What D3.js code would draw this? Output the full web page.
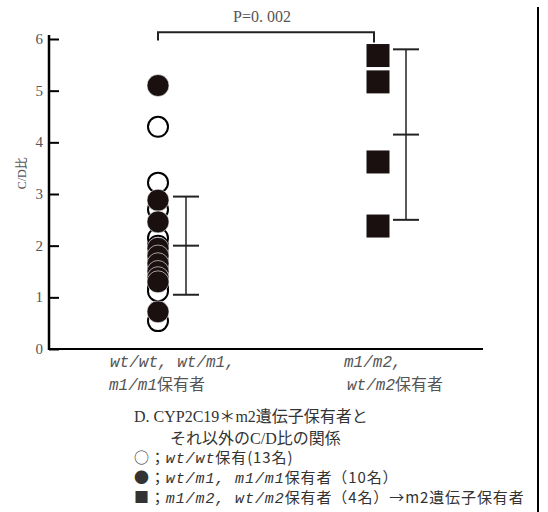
<!DOCTYPE html>
<html>
<head>
<meta charset="utf-8">
<script src="https://cdn.jsdelivr.net/npm/d3@7"></script>
<style>
  body { margin: 0; background: #fff; }
  svg { display: block; }
  .tick-label { font-family: "Liberation Serif", "DejaVu Serif", serif; font-size: 15px; fill: #555; }
  .jp { font-family: "Noto Sans CJK JP", sans-serif; }
  .it { font-family: "Liberation Mono", monospace; font-style: italic; }
  .se { font-family: "Liberation Serif", serif; }
</style>
</head>
<body>
<div id="chart"></div>
<script>
// values
const categories = ["g1", "g2"];
const openValues = [4.3, 3.22, 2.7, 2.15, 2.0, 1.85, 1.7, 1.55, 1.4, 1.3, 1.2, 1.12, 0.54]; // wt/wt (13)
const filledValues = [5.1, 2.88, 2.46, 1.95, 1.8, 1.65, 1.5, 1.38, 1.3, 0.72];              // wt/m1, m1/m1 (10)
const squareValues = [5.68, 5.17, 3.62, 2.38];                                               // m1/m2, wt/m2 (4)
const means = [2.0, 4.15];
const sds = [0.95, 1.65];
const yTicks = [0, 1, 2, 3, 4, 5, 6];
const pLabel = "P=0. 002";

const width = 548, height = 512;
const svg = d3.select("#chart").append("svg")
  .attr("width", width)
  .attr("height", height);

const y = d3.scaleLinear().domain([0, 6]).range([349, 39]);
const x = d3.scalePoint().domain(categories).range([158, 378]);

// right frame line
svg.append("line")
  .attr("x1", 538).attr("x2", 538)
  .attr("y1", 7).attr("y2", height)
  .attr("stroke", "#000").attr("stroke-width", 2);

// y axis
const yAxis = svg.append("g")
  .attr("transform", "translate(49,0)")
  .call(d3.axisRight(y).tickValues(yTicks).tickSize(10).tickFormat(""));
yAxis.select(".domain").remove();
yAxis.selectAll(".tick line").attr("stroke", "#000").attr("stroke-width", 2);
svg.append("line")
  .attr("x1", 49).attr("x2", 49)
  .attr("y1", y(6) - 4).attr("y2", y(0) + 1)
  .attr("stroke", "#000").attr("stroke-width", 2.5);
svg.selectAll(".ylab").data(yTicks).join("text")
  .attr("class", "tick-label")
  .attr("x", 43)
  .attr("y", d => y(d) + 5)
  .attr("text-anchor", "end")
  .text(d => d);

// x axis baseline
svg.append("line")
  .attr("x1", 48).attr("x2", 483)
  .attr("y1", y(0)).attr("y2", y(0))
  .attr("stroke", "#000").attr("stroke-width", 2);

// y label
svg.append("text")
  .attr("transform", `translate(26,${y(3.4)}) rotate(-90)`)
  .attr("text-anchor", "middle")
  .attr("fill", "#555")
  .style("font-size", "12px")
  .html('<tspan class="se">C/D</tspan><tspan class="jp">比</tspan>');

// significance bracket
const bTop = y(6.13);
svg.append("path")
  .attr("d", `M${x("g1")},${y(5.97)} V${bTop} H${x("g2") - 4} V${y(5.93)}`)
  .attr("fill", "none").attr("stroke", "#222").attr("stroke-width", 2);
svg.append("text")
  .attr("x", (x("g1") + x("g2")) / 2 - 6)
  .attr("y", bTop - 10)
  .attr("text-anchor", "middle")
  .attr("class", "tick-label")
  .style("font-size", "16px")
  .text(pLabel);

// points
const r = 11;
svg.selectAll(".open").data(openValues).join("circle")
  .attr("cx", x("g1")).attr("cy", d => y(d)).attr("r", r - 1)
  .attr("fill", "#fff").attr("stroke", "#000").attr("stroke-width", 2);
svg.selectAll(".filled").data(filledValues).join("circle")
  .attr("cx", x("g1")).attr("cy", d => y(d)).attr("r", r)
  .attr("fill", "#1a1010").attr("stroke", "#fff").attr("stroke-width", 0.6);
const s = 23;
svg.selectAll(".sq").data(squareValues).join("rect")
  .attr("x", x("g2") - s / 2).attr("y", d => y(d) - s / 2)
  .attr("width", s).attr("height", s)
  .attr("fill", "#1a1010");

// mean ± SD bars
const off = 28, cap = 13;
categories.forEach((c, i) => {
  const cx = x(c) + off;
  const g = svg.append("g").attr("stroke", "#222").attr("stroke-width", 2);
  g.append("line").attr("x1", cx).attr("x2", cx)
    .attr("y1", y(means[i] + sds[i])).attr("y2", y(means[i] - sds[i]))
    .attr("stroke-width", 1.5);
  [means[i] - sds[i], means[i], means[i] + sds[i]].forEach(v => {
    g.append("line").attr("x1", cx - cap).attr("x2", cx + cap)
      .attr("y1", y(v)).attr("y2", y(v));
  });
});

// category labels
const catText = svg.append("g").attr("fill", "#555").style("font-size", "16px");
catText.append("text").attr("x", 110).attr("y", 367)
  .html('<tspan class="it">wt/wt, wt/m1,</tspan>');
catText.append("text").attr("x", 109).attr("y", 390)
  .html('<tspan class="it">m1/m1</tspan><tspan class="jp">保有者</tspan>');
catText.append("text").attr("x", 344).attr("y", 367)
  .html('<tspan class="it">m1/m2,</tspan>');
catText.append("text").attr("x", 347).attr("y", 390)
  .html('<tspan class="it">wt/m2</tspan><tspan class="jp">保有者</tspan>');

// caption / legend
const leg = svg.append("g").attr("fill", "#333").style("font-size", "16px");
leg.append("text").attr("x", 134).attr("y", 422)
  .html('<tspan class="se">D.  CYP2C19</tspan><tspan class="jp">＊</tspan><tspan class="se">m2</tspan><tspan class="jp">遺伝子保有者と</tspan>');
leg.append("text").attr("x", 170).attr("y", 444)
  .html('<tspan class="jp">それ以外の</tspan><tspan class="se">C/D</tspan><tspan class="jp">比の関係</tspan>');
const leg2 = svg.append("g").attr("fill", "#333").style("font-size", "15px").style("letter-spacing", "0.9px");
leg2.append("text").attr("x", 134).attr("y", 463)
  .html('<tspan class="jp">○；</tspan><tspan class="it">wt/wt</tspan><tspan class="jp">保有(13名)</tspan>');
leg2.append("text").attr("x", 134).attr("y", 483)
  .html('<tspan class="jp">●；</tspan><tspan class="it">wt/m1, m1/m1</tspan><tspan class="jp">保有者（10名）</tspan>');
leg2.append("text").attr("x", 134).attr("y", 503)
  .html('<tspan class="jp">■；</tspan><tspan class="it">m1/m2, wt/m2</tspan><tspan class="jp">保有者（4名）→m2遺伝子保有者</tspan>');
</script>
</body>
</html>
